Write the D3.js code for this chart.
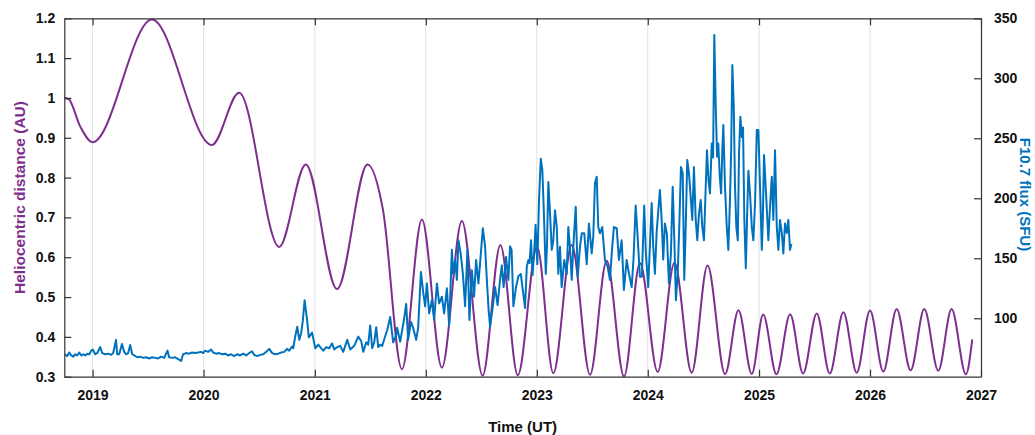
<!DOCTYPE html>
<html><head><meta charset="utf-8">
<script src="https://cdn.jsdelivr.net/npm/d3@7"></script>
<style>
html,body{margin:0;padding:0;background:#fff;}
text{font-family:"Liberation Sans",Arial,Helvetica,sans-serif;font-weight:bold;}
</style></head>
<body><svg id="chart" width="1035" height="435"></svg>
<script>
// ---- data (decimal years) ----
const yearTicks = [2019,2020,2021,2022,2023,2024,2025,2026,2027];
const distTicks = [0.3,0.4,0.5,0.6,0.7,0.8,0.9,1.0,1.1,1.2];
const fluxTicks = [100,150,200,250,300,350];

const distTime = [2018.748,2018.785,2018.889,2019.000,2019.535,2020.075,2020.320,2020.680,2020.919,2021.200,2021.475,2021.614,2021.785,2021.965,2022.145,2022.325,2022.512,2022.672,2022.829,2023.003,2023.149,2023.315,2023.480,2023.630,2023.786,2023.930,2024.089,2024.240,2024.395,2024.537,2024.695,2024.815,2024.935,2025.037,2025.157,2025.280,2025.397,2025.520,2025.637,2025.760,2025.880,2026.000,2026.120,2026.240,2026.366,2026.489,2026.615,2026.735,2026.864,2026.921];
const distValue = [1.000,0.997,0.928,0.889,1.197,0.882,1.013,0.626,0.833,0.520,0.833,0.719,0.319,0.695,0.323,0.691,0.303,0.631,0.304,0.626,0.309,0.631,0.305,0.591,0.301,0.585,0.312,0.586,0.310,0.579,0.307,0.467,0.307,0.456,0.306,0.457,0.308,0.459,0.308,0.462,0.310,0.466,0.313,0.470,0.316,0.470,0.315,0.470,0.306,0.394];

const fluxTime = [2018.750,2018.772,2018.790,2018.808,2018.826,2018.844,2018.862,2018.880,2018.898,2018.916,2018.934,2018.952,2018.970,2018.988,2019.002,2019.024,2019.042,2019.069,2019.087,2019.114,2019.141,2019.168,2019.186,2019.211,2019.222,2019.240,2019.265,2019.285,2019.303,2019.321,2019.339,2019.357,2019.375,2019.402,2019.429,2019.456,2019.483,2019.510,2019.537,2019.564,2019.591,2019.618,2019.645,2019.675,2019.690,2019.717,2019.744,2019.771,2019.798,2019.816,2019.843,2019.870,2019.897,2019.924,2019.951,2019.978,2019.996,2020.014,2020.041,2020.068,2020.086,2020.113,2020.140,2020.167,2020.194,2020.221,2020.248,2020.275,2020.302,2020.329,2020.356,2020.383,2020.410,2020.435,2020.455,2020.482,2020.509,2020.536,2020.563,2020.590,2020.617,2020.644,2020.671,2020.698,2020.725,2020.750,2020.770,2020.795,2020.806,2020.824,2020.842,2020.860,2020.878,2020.892,2020.908,2020.930,2020.946,2020.975,2021.004,2021.031,2021.049,2021.076,2021.103,2021.130,2021.155,2021.175,2021.202,2021.229,2021.256,2021.292,2021.319,2021.355,2021.391,2021.418,2021.436,2021.463,2021.481,2021.499,2021.517,2021.535,2021.553,2021.571,2021.589,2021.607,2021.634,2021.652,2021.679,2021.706,2021.733,2021.742,2021.769,2021.787,2021.805,2021.823,2021.841,2021.866,2021.886,2021.913,2021.931,2021.956,2021.976,2021.994,2022.010,2022.030,2022.055,2022.075,2022.100,2022.120,2022.145,2022.165,2022.190,2022.210,2022.235,2022.246,2022.264,2022.280,2022.294,2022.314,2022.334,2022.354,2022.375,2022.393,2022.415,2022.435,2022.453,2022.474,2022.489,2022.514,2022.534,2022.550,2022.566,2022.579,2022.604,2022.624,2022.647,2022.669,2022.685,2022.701,2022.723,2022.744,2022.759,2022.773,2022.789,2022.813,2022.834,2022.856,2022.879,2022.894,2022.910,2022.924,2022.935,2022.948,2022.962,2022.978,2022.989,2023.005,2023.020,2023.036,2023.050,2023.065,2023.081,2023.092,2023.104,2023.119,2023.135,2023.149,2023.164,2023.180,2023.194,2023.209,2023.224,2023.248,2023.270,2023.284,2023.299,2023.315,2023.329,2023.351,2023.369,2023.389,2023.405,2023.428,2023.450,2023.470,2023.495,2023.509,2023.524,2023.540,2023.554,2023.569,2023.590,2023.614,2023.638,2023.659,2023.680,2023.695,2023.720,2023.740,2023.765,2023.785,2023.810,2023.830,2023.855,2023.871,2023.891,2023.907,2023.929,2023.947,2023.968,2023.983,2024.004,2024.035,2024.049,2024.064,2024.080,2024.094,2024.109,2024.125,2024.139,2024.154,2024.172,2024.190,2024.208,2024.224,2024.238,2024.253,2024.269,2024.283,2024.298,2024.314,2024.328,2024.341,2024.355,2024.370,2024.386,2024.400,2024.415,2024.431,2024.445,2024.460,2024.476,2024.490,2024.505,2024.521,2024.532,2024.546,2024.559,2024.575,2024.587,2024.598,2024.611,2024.623,2024.634,2024.647,2024.659,2024.670,2024.679,2024.694,2024.710,2024.724,2024.737,2024.749,2024.760,2024.773,2024.784,2024.796,2024.809,2024.820,2024.832,2024.845,2024.856,2024.868,2024.881,2024.892,2024.904,2024.919,2024.935,2024.949,2024.964,2024.980,2024.994,2025.009,2025.025,2025.034,2025.045,2025.063,2025.084,2025.099,2025.115,2025.129,2025.144,2025.160,2025.174,2025.189,2025.205,2025.219,2025.234,2025.250,2025.264,2025.279,2025.292];
const fluxValue = [70,68.5,71.5,69,68,70,69,71.5,69,70,69,70.5,70,73,74,70,71,76,71,70,70.5,69.5,71,82,70,70,78.5,72,70,71,77.7,70,69,67.5,68,67,67.5,66.5,67.5,67,66.5,68,67,73,67.5,67,67.5,66,64.5,70,71,70.5,71.5,71,71.5,72,71,73,72,74,71.5,70.5,71,70,70.5,69,70,68.5,70,69,70.5,69,71,72.5,69.5,68.5,69.5,70,72,74.5,71,70,70.5,71.5,72,74.5,73,76.5,75,85,93,82,88,98,115,99,84,88,75,78,76,73,76,75,79,74,76,77,72,82,74,77,84.7,81,72,80,78,94,75,80,92.6,76,78,77,85,90,101,80,86,92,80.5,90,100,112,82,97,92,82,92,138.6,122,110,129,104,115,98.6,129,112.5,118,104,125,94,157,137,148.6,132,165,154,137,110,157,98.6,140,118,148.6,129,146,175,160,132,107,93,110,126,111,132,144,126,151,132,160,157,110,126,135,137,120,108.6,143,148.6,146,165,136,158,178,145,198.6,233,223.6,185,137,160,213.6,188,157,165,190,176,137,159.7,126,148.6,137,176,159.7,132,159.7,193,134.7,159.7,170.8,170.8,145,179,154,168,212.5,218,176,170.8,176,148.6,143,132,159.7,176,175,148.6,165,123.6,148.6,137.4,126,148.6,194,170.8,134.7,134.7,194,154,126,196,160,137,172,189,207,182,149,179,170,129,154,209.7,168,115,137,176,226,221,132,176,232,221,201,182,226,182,165,187,198.6,176,165,210,240,215,204,245.6,234,336,276,234.7,245.6,218,204,240,261,209.7,176,157,193,237,311,276,209.7,176,165,237.5,268,251,259,182,141.6,182,223,204,176,165,196,257,257,209.7,157,182,236,204,165,193,218,182,240,176,157,182,171,154,179,171,182,157,162];

// ---- layout ----
const W = 1035, H = 435;
const L = 64.3, R = 981, T = 18.3, B = 376.7;
const C_DIST = "#7E2F8E", C_FLUX = "#0072BD", C_AX = "#333333";

function decToDate(t){
  const y = Math.floor(t);
  const s = Date.UTC(y,0,1), e = Date.UTC(y+1,0,1);
  return new Date(s + (t - y) * (e - s));
}

const x = d3.scaleUtc().domain([new Date(Date.UTC(2018,8,30)), new Date(Date.UTC(2027,0,1))]).range([L,R]);
const yL = d3.scaleLinear().domain([0.3,1.2]).range([B,T]);
const yR = d3.scaleLinear().domain([51.3,350]).range([B,T]);

const svg = d3.select("#chart");

// grid
svg.append("g").selectAll("line").data(yearTicks.slice(0,-1)).join("line")
  .attr("x1", d => x(decToDate(d))).attr("x2", d => x(decToDate(d)))
  .attr("y1", T).attr("y2", B)
  .attr("stroke", "#e2e2e2").attr("stroke-width", 1);

// lines
const distData = distTime.map((t,i) => [decToDate(t), distValue[i]]);
const fluxData = fluxTime.map((t,i) => [decToDate(t), fluxValue[i]]);

svg.append("path").datum(distData)
  .attr("fill","none").attr("stroke",C_DIST).attr("stroke-width",2)
  .attr("d", d3.line().x(d => x(d[0])).y(d => yL(d[1])).curve(d3.curveMonotoneX));

svg.append("path").datum(fluxData)
  .attr("fill","none").attr("stroke",C_FLUX).attr("stroke-width",2).attr("stroke-linejoin","round")
  .attr("d", d3.line().x(d => x(d[0])).y(d => yR(d[1])));

// axes
const fmtL = d => (Math.abs(d-1) < 1e-9 ? "1" : d3.format(".1f")(d));
const axB = d3.axisBottom(x).tickValues(yearTicks.map(decToDate)).tickFormat(d3.utcFormat("%Y")).tickSizeInner(-7).tickSizeOuter(0).tickPadding(13);
const axT = d3.axisTop(x).tickValues(yearTicks.map(decToDate)).tickFormat("").tickSizeInner(-7).tickSizeOuter(0);
const axL = d3.axisLeft(yL).tickValues(distTicks).tickFormat(fmtL).tickSizeInner(-7).tickSizeOuter(0).tickPadding(9);
const axR = d3.axisRight(yR).tickValues(fluxTicks).tickSizeInner(-7).tickSizeOuter(0).tickPadding(13);

function style(g){
  g.selectAll("path.domain").attr("stroke", C_AX).attr("stroke-width", 1.2);
  g.selectAll(".tick line").attr("stroke", C_AX).attr("stroke-width", 1.2);
  g.selectAll(".tick text").attr("fill", "#111").style("font-size","14px").style("font-weight","bold")
    .style("font-family",'"Liberation Sans",Arial,sans-serif');
}
svg.append("g").attr("transform",`translate(0,${B})`).call(axB).call(style);
svg.append("g").attr("transform",`translate(0,${T})`).call(axT).call(style);
svg.append("g").attr("transform",`translate(${L},0)`).call(axL).call(style);
svg.append("g").attr("transform",`translate(${R},0)`).call(axR).call(style);

// titles
svg.append("text").attr("x", (L+R)/2).attr("y", 432).attr("text-anchor","middle")
  .style("font-size","15px").attr("fill","#111").text("Time (UT)");
svg.append("text").attr("transform", `translate(25,${(T+B)/2}) rotate(-90)`).attr("text-anchor","middle")
  .style("font-size","15.5px").attr("fill",C_DIST).text("Heliocentric distance (AU)");
svg.append("text").attr("transform", `translate(1020,${(T+B)/2 - 3}) rotate(90)`).attr("text-anchor","middle")
  .style("font-size","15px").attr("fill",C_FLUX).text("F10.7 flux (SFU)");
</script></body></html>
